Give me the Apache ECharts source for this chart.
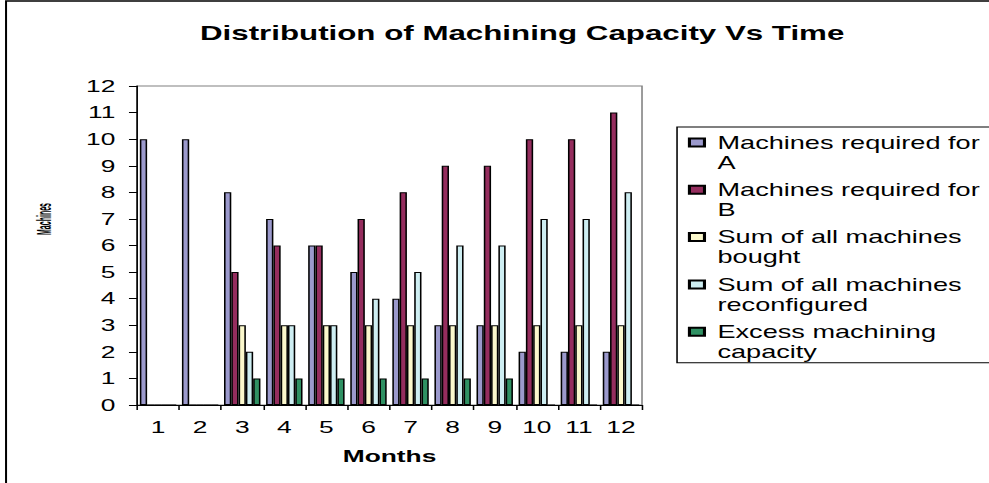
<!DOCTYPE html>
<html>
<head>
<meta charset="utf-8">
<script src="https://cdn.jsdelivr.net/npm/echarts@6/dist/echarts.min.js"></script>
<style>
html,body{margin:0;padding:0;background:#fff;overflow:hidden;width:989px;height:483px;}
#chart{width:638px;height:483px;transform:scaleX(1.55);transform-origin:0 0;}
</style>
</head>
<body>
<div id="chart"></div>
<script>
// ---- data ----
var months = ['1','2','3','4','5','6','7','8','9','10','11','12'];
var seriesNames = ['Machines required for A','Machines required for B','Sum of all machines bought','Sum of all machines reconfigured','Excess machining capacity'];
var legendLabels = ['Machines required for\nA','Machines required for\nB','Sum of all machines\nbought','Sum of all machines\nreconfigured','Excess machining\ncapacity'];
var requiredA = [10,10,8,7,6,5,4,3,3,2,2,2];
var requiredB = [0,0,5,6,6,7,8,9,9,10,10,11];
var bought = [0,0,3,3,3,3,3,3,3,3,3,3];
var reconfigured = [0,0,2,3,3,4,5,6,6,7,7,8];
var excess = [0,0,1,1,1,1,1,1,1,0,0,0];
var yTicks = [0,1,2,3,4,5,6,7,8,9,10,11,12];
var titleText = 'Distribution of Machining Capacity Vs Time';
var xName = 'Months';
var yName = 'Machines';

// ---- styles ----
var colors = ['#9B99CC','#952D5E','#FBF8CC','#CEEEF2','#2F9163'];
var FONT = 'Liberation Sans, Arial, Helvetica, sans-serif';
var seriesData = [requiredA, requiredB, bought, reconfigured, excess];

var chart = echarts.init(document.getElementById('chart'), null, {renderer:'svg'});
var series = seriesData.map(function(d,i){
  return {
    name: seriesNames[i],
    type: 'bar',
    data: d,
    barGap: '0%',
    barCategoryGap: '13.4%',
    itemStyle: {color: colors[i], borderColor:'#000', borderWidth:1},
    emphasis: {disabled:true}
  };
});
chart.setOption({
  animation: false,
  backgroundColor: '#fff',
  color: colors,
  title: {
    text: titleText, left: 129, top: 23, padding: 0,
    textStyle: {fontFamily: FONT, fontSize: 20.2, fontWeight: 'bold', color: '#000'}
  },
  grid: {left: 88.4, top: 86, width: 325.8, height: 319, show: true, borderColor: '#808080', borderWidth: 1, backgroundColor: 'transparent'},
  legend: {
    orient: 'vertical', left: 436.8, top: 127,
    padding: [4.5, 6.5, 0, 7], itemGap: 5.3,
    itemWidth: 13.1, itemHeight: 40,
    icon: 'path://M0,6L9.7,6L9.7,14L0,14Z M0,0L0.001,0 M13.1,40L13.101,40',
    borderColor: '#000', borderWidth: 1, selectedMode: false,
    data: seriesNames,
    formatter: function(n){ return legendLabels[seriesNames.indexOf(n)]; },
    textStyle: {fontFamily: FONT, fontSize: 17.5, lineHeight: 20, color: '#000'}
  },
  xAxis: {
    type: 'category', data: months,
    name: xName, nameLocation: 'middle', nameGap: 43,
    nameTextStyle: {fontFamily: FONT, fontSize: 17, fontWeight: 'bold', color: '#000'},
    axisLine: {lineStyle: {color: '#000', width: 1}},
    axisTick: {show: true, length: 5, lineStyle: {color: '#000'}},
    axisLabel: {fontFamily: FONT, fontSize: 17, color: '#000', margin: 14}
  },
  yAxis: {
    type: 'value', min: yTicks[0], max: yTicks[yTicks.length-1], interval: 1,
    axisLine: {show: true, lineStyle: {color: '#000', width: 1}},
    axisTick: {show: true, length: 5.2, lineStyle: {color: '#000'}},
    splitLine: {show: false},
    axisLabel: {fontFamily: FONT, fontSize: 17, color: '#000', margin: 14}
  },
  graphic: [{
    type: 'rect', silent: true, z: 100,
    shape: {x: 3.9, y: 1, width: 800, height: 700},
    style: {fill: 'none', stroke: '#000', lineWidth: 1.3}
  }, {
    type: 'text', silent: true, z: 100,
    x: 28, y: 219, rotation: Math.PI / 2, scaleX: 0.54,
    style: {text: yName, fontFamily: FONT, fontSize: 13, fontWeight: 'bold', fill: '#000', align: 'center', verticalAlign: 'middle'}
  }],
  series: series
});
</script>
</body>
</html>
